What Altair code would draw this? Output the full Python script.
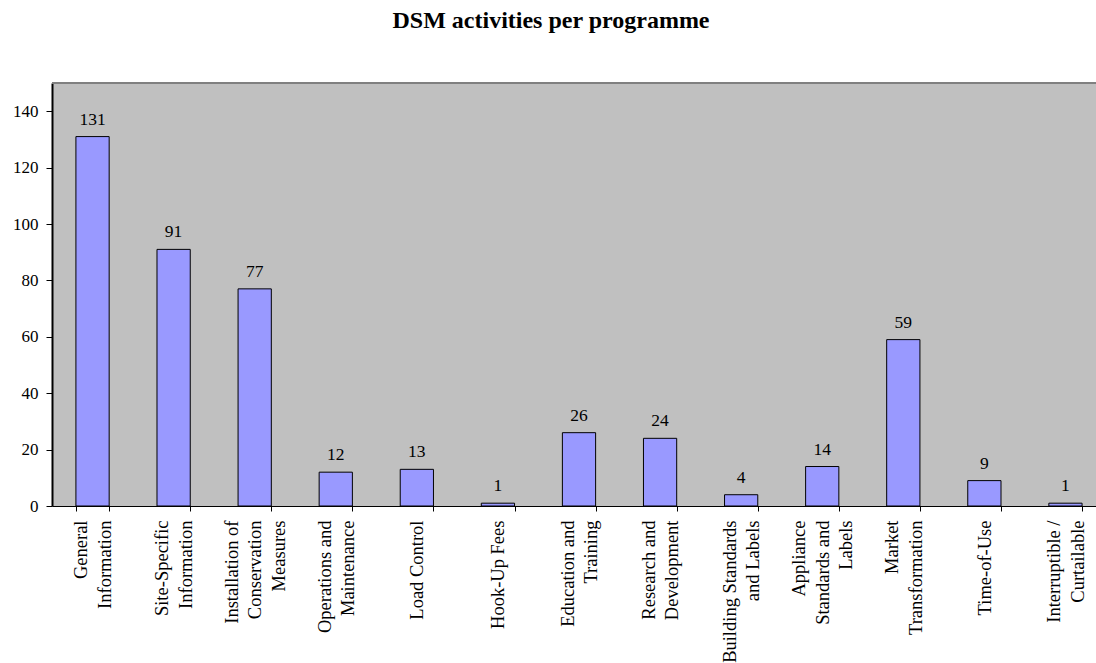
import altair as alt
import pandas as pd

categories = [
    "General|Information",
    "Site-Specific|Information",
    "Installation of|Conservation|Measures",
    "Operations and|Maintenance",
    "Load Control",
    "Hook-Up Fees",
    "Education and|Training",
    "Research and|Development",
    "Building Standards|and Labels",
    "Appliance|Standards and|Labels",
    "Market|Transformation",
    "Time-of-Use",
    "Interruptible /|Curtailable",
]
values = [131, 91, 77, 12, 13, 1, 26, 24, 4, 14, 59, 9, 1]
y_ticks = [0, 20, 40, 60, 80, 100, 120, 140]
y_max = 150

df = pd.DataFrame({"cat": categories, "val": values})

FONT = "Liberation Serif"
LINE_H = 23.5

label_offset = {
    "condition": [
        {"test": "length(split(datum.value, '|')) == 3", "value": -LINE_H},
        {"test": "length(split(datum.value, '|')) == 2", "value": -LINE_H / 2},
    ],
    "value": 0,
}

x_enc = alt.X(
    "cat:N",
    sort=None,
    title=None,
    scale=alt.Scale(range=[0, 1054], paddingInner=0.59, paddingOuter=0.295),
    axis=alt.Axis(
        labelAngle=270,
        labelAlign="right",
        labelBaseline="middle",
        labelExpr="split(datum.label, '|')",
        labelFont=FONT,
        labelFontSize=18.5,
        labelLineHeight=LINE_H,
        labelColor="black",
        labelPadding=9,
        labelOffset=label_offset,
        labelOverlap=False,
        labelBound=False,
        tickBand="extent",
        tickSize=5,
        tickColor="black",
        domainColor="black",
        domainWidth=1,
    ),
)

y_enc = alt.Y(
    "val:Q",
    title=None,
    scale=alt.Scale(domain=[0, y_max], nice=False),
    axis=alt.Axis(
        values=y_ticks,
        grid=False,
        labelFont=FONT,
        labelFontSize=17,
        labelColor="black",
        labelPadding=8,
        tickSize=6,
        tickColor="black",
        domainColor="black",
        domainWidth=2,
    ),
)

base = alt.Chart(df)

bars = base.mark_bar(color="#9999FF", stroke="black", strokeWidth=1).encode(
    x=x_enc, y=y_enc
)

labels = base.mark_text(
    font=FONT, fontSize=17.5, color="black", baseline="alphabetic", dy=-12
).encode(x=alt.X("cat:N", sort=None), y="val:Q", text="val:Q")

top_border = alt.Chart(df).mark_rule(color="#808080", strokeWidth=2).encode(
    y=alt.datum(y_max)
)

chart = (
    alt.layer(top_border, bars, labels)
    .properties(
        width=1044,
        height=423,
        background="white",
        autosize=alt.AutoSizeParams(type="none"),
        padding={"left": 52, "top": 83, "right": 0, "bottom": 157},
        title=alt.TitleParams(
            "DSM activities per programme",
            font=FONT,
            fontSize=24,
            fontWeight="bold",
            color="black",
            anchor="middle",
            frame="group",
            baseline="alphabetic",
            offset=30,
            dx=-23,
        ),
    )
    .configure_view(fill="#C0C0C0", strokeWidth=0)
)

chart.save("out.html", embed_options={"renderer": "svg", "actions": False})
